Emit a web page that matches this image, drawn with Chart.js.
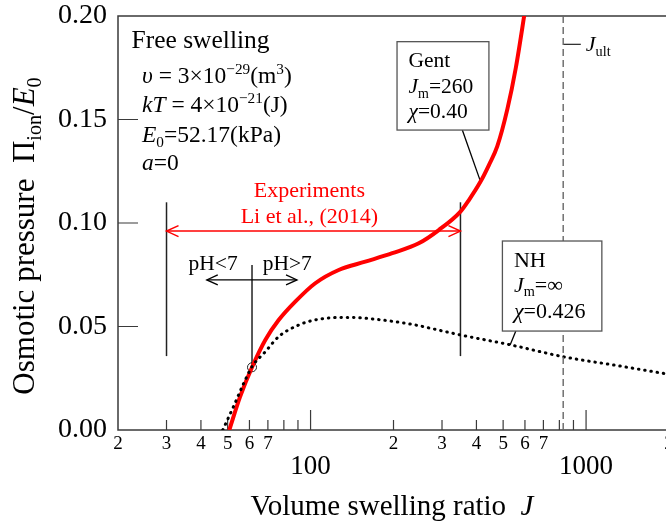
<!DOCTYPE html>
<html><head><meta charset="utf-8">
<script src="https://cdn.jsdelivr.net/npm/chart.js@4"></script>
<style>
html,body{margin:0;padding:0;background:#fff;overflow:hidden;width:666px;height:521px}
#wrap{position:absolute;left:0;top:0;width:680px;height:521px}
</style>
</head><body>
<div id="wrap"><canvas id="c" width="680" height="521"></canvas></div>
<script>
const FONT = '"Liberation Serif", "Times New Roman", serif';

// ---- data ----
const gentJ = [50.7, 55.5, 61.3, 68.5, 76.6, 88, 104, 126.5, 158, 198, 247, 292, 350, 375.7, 414, 444, 476, 518, 556, 596, 620];
const gentV = [0, 0.0161, 0.0303, 0.0435, 0.0531, 0.062, 0.0709, 0.0773, 0.0813, 0.0854, 0.0902, 0.0966, 0.1055, 0.1111, 0.120, 0.128, 0.137, 0.155, 0.175, 0.200, 0.215];
const nhJ = [48, 52.5, 57.2, 61.3, 68.5, 76.6, 90.5, 107, 137.6, 172, 234, 309, 350, 533, 826, 1300, 2000];
const nhV = [0, 0.0113, 0.0226, 0.0306, 0.0378, 0.0451, 0.0507, 0.0535, 0.0544, 0.0535, 0.051, 0.0475, 0.0459, 0.0411, 0.0354, 0.0311, 0.0269];
const jUlt = 826;
const jUltLabelJ = [826, 957];
const jUltLabelV = 0.1863;
const expBarJ = [30, 350];
const expBarV = [0.0357, 0.110];
const expArrowV = 0.0961;
const phJ = 61.3;
const phBarV = [0.0303, 0.0797];
const phArrowJ = [42.0, 89.3];
const phArrowV = 0.0725;
const markerJ = [61.3];
const markerV = [0.0303];
const gentLeaderJ = [355.5, 414];
const gentLeaderV = [0.1449, 0.120];
const nhLeaderJ = [556, 530];
const nhLeaderV = [0.0478, 0.0411];

// ---- tick labels ----
const xMinorTickValues = [20,30,40,50,60,70,80,90,200,300,400,500,600,700,800,900,2000];
const xMinorTickLabels = ['2','3','4','5','6','7','','','2','3','4','5','6','7','','','2'];
const xMajorTickValues = [100,1000];
const xMajorTickLabels = ['100','1000'];
const yTickValues = [0,0.05,0.10,0.15,0.20];
const yTickLabels = ['0.00','0.05','0.10','0.15','0.20'];

const pts = (xs, ys) => xs.map((x,i)=>({x, y: Array.isArray(ys) ? ys[i] : ys}));

function fontStr(sz, it){ return (it?'italic ':'') + sz + 'px ' + FONT; }
function segW(ctx, s, size){
  const sz = (s.sub||s.sup) ? size*0.65 : size;
  ctx.font = fontStr(sz, s.i);
  return ctx.measureText(s.t).width;
}
function drawRich(ctx, segs, x, y, size, align, color){
  let total = 0;
  segs.forEach(s=> total += segW(ctx, s, size));
  let cx = align==='center' ? x - total/2 : x;
  ctx.fillStyle = color || '#000';
  ctx.textBaseline = 'alphabetic';
  ctx.textAlign = 'left';
  segs.forEach(s=>{
    const w = segW(ctx, s, size);
    const dy = s.sub ? size*0.22 : (s.sup ? -size*0.38 : 0);
    ctx.fillText(s.t, cx, y+dy);
    cx += w;
  });
}

function arrowHead(ctx, x, y, dir, len, half){
  ctx.beginPath();
  ctx.moveTo(x - dir*len, y - half);
  ctx.lineTo(x, y);
  ctx.lineTo(x - dir*len, y + half);
  ctx.stroke();
}

const decor = {
  id:'decor',
  beforeDatasetsDraw(chart){
    const {ctx, chartArea:a, scales} = chart;
    const x = scales.x, y = scales.y;
    ctx.save();
    ctx.strokeStyle = '#3a3a3a';
    ctx.lineWidth = 1.5;
    ctx.strokeRect(a.left, a.top, a.right - a.left, a.bottom - a.top);
    ctx.lineWidth = 1.2;
    ctx.beginPath();
    xMinorTickValues.forEach(v=>{
      if (v===20) return;
      const px = x.getPixelForValue(v);
      ctx.moveTo(px, a.bottom); ctx.lineTo(px, a.bottom-10);
    });
    xMajorTickValues.forEach(v=>{
      const px = x.getPixelForValue(v);
      ctx.moveTo(px, a.bottom); ctx.lineTo(px, a.bottom-20);
    });
    yTickValues.forEach(v=>{
      if (v===0 || v===0.2) return;
      const py = y.getPixelForValue(v);
      ctx.moveTo(a.left, py); ctx.lineTo(a.left+20, py);
    });
    ctx.stroke();
    ctx.restore();
  },
  afterDatasetsDraw(chart){
    const {ctx, chartArea:a, scales} = chart;
    const X = v => scales.x.getPixelForValue(v);
    const Y = v => scales.y.getPixelForValue(v);
    ctx.save();
    // arrowheads
    ctx.lineWidth = 1.5;
    ctx.strokeStyle = '#ff0000';
    arrowHead(ctx, X(expBarJ[0]), Y(expArrowV), -1, 12, 5.5);
    arrowHead(ctx, X(expBarJ[1]), Y(expArrowV), 1, 12, 5.5);
    ctx.strokeStyle = '#000';
    ctx.lineWidth = 1.3;
    arrowHead(ctx, X(phArrowJ[0]), Y(phArrowV), -1, 11, 5);
    arrowHead(ctx, X(phArrowJ[1]), Y(phArrowV), 1, 11, 5);

    // boxes
    const box = (j0,j1,v0,v1)=>{
      const x0=X(j0), x1=X(j1), y0=Y(v0), y1=Y(v1);
      ctx.fillStyle='#fff';
      ctx.fillRect(x0,y0,x1-x0,y1-y0);
      ctx.strokeStyle='#555'; ctx.lineWidth=1.3;
      ctx.strokeRect(x0,y0,x1-x0,y1-y0);
      return {x:x0, y:y0};
    };
    const g = box(206, 444, 0.1876, 0.1449);
    drawRich(ctx, [{t:'Gent'}], g.x+11.5, g.y+25, 21.5, 'left');
    drawRich(ctx, [{t:'J',i:true},{t:'m',sub:true},{t:'=260'}], g.x+11.5, g.y+51.5, 21.5, 'left');
    drawRich(ctx, [{t:'χ',i:true},{t:'=0.40'}], g.x+11.5, g.y+76.5, 21.5, 'left');
    const n = box(497, 1141, 0.0913, 0.0478);
    drawRich(ctx, [{t:'NH'}], n.x+11.5, n.y+26, 22, 'left');
    drawRich(ctx, [{t:'J',i:true},{t:'m',sub:true},{t:'=∞'}], n.x+11.5, n.y+50.5, 22, 'left');
    drawRich(ctx, [{t:'χ',i:true},{t:'=0.426'}], n.x+11.5, n.y+77, 22, 'left');

    // free swelling block
    const L = a.left, T = a.top;
    drawRich(ctx, [{t:'Free swelling'}], L+13.5, T+32, 25.5, 'left');
    drawRich(ctx, [{t:'υ',i:true},{t:' = 3×10'},{t:'−29',sup:true},{t:'(m'},{t:'3',sup:true},{t:')'}], L+24, T+67, 23.5, 'left');
    drawRich(ctx, [{t:'kT',i:true},{t:' = 4×10'},{t:'−21',sup:true},{t:'(J)'}], L+24, T+96, 23.5, 'left');
    drawRich(ctx, [{t:'E',i:true},{t:'0',sub:true},{t:'=52.17(kPa)'}], L+24, T+126, 23.5, 'left');
    drawRich(ctx, [{t:'a',i:true},{t:'=0'}], L+24, T+154, 23.5, 'left');

    // experiments
    drawRich(ctx, [{t:'Experiments'}], X(99), Y(0.1127), 22, 'center', '#ff0000');
    drawRich(ctx, [{t:'Li et al., (2014)'}], X(99), Y(0.100), 22, 'center', '#ff0000');
    // pH
    drawRich(ctx, [{t:'pH<7'}], X(44.3), Y(0.0774), 21.5, 'center');
    drawRich(ctx, [{t:'pH>7'}], X(82.3), Y(0.0774), 21.5, 'center');
    // J_ult
    drawRich(ctx, [{t:'J',i:true},{t:'ult',sub:true}], X(jUltLabelJ[1])+5, Y(jUltLabelV)+7, 22, 'left');
    ctx.restore();
  },
  afterDraw(chart){
    const {ctx} = chart;
    ctx.save();
    // x title
    drawRich(ctx, [{t:'Volume swelling ratio  '},{t:'J',i:true}], 392, 515, 29, 'center');
    // y title
    ctx.translate(34, 236);
    ctx.rotate(-Math.PI/2);
    drawRich(ctx, [{t:'Osmotic pressure  Π'},{t:'ion',sub:true},{t:'/'},{t:'E',i:true},{t:'0',sub:true}], 0, 0, 31, 'center');
    ctx.restore();
  }
};

const lineDs = (data, color, width, extra) => Object.assign({
  data, showLine:true, borderColor:color, backgroundColor:color, borderWidth:width,
  pointRadius:0, fill:false, tension:0
}, extra||{});

new Chart(document.getElementById('c'), {
  type:'scatter',
  data:{ datasets:[
    lineDs(pts([jUlt,jUlt],[0,0.2]), '#666', 1.4, {borderDash:[7,4]}),
    lineDs(pts(nhJ, nhV), '#000', 3, {borderDash:[0.5,5.8], borderCapStyle:'round', cubicInterpolationMode:'monotone'}),
    lineDs(pts(gentJ, gentV), '#ff0000', 4, {cubicInterpolationMode:'monotone'}),
    lineDs(pts([expBarJ[0],expBarJ[0]], expBarV), '#222', 1.5),
    lineDs(pts([expBarJ[1],expBarJ[1]], expBarV), '#222', 1.5),
    lineDs(pts(expBarJ, expArrowV), '#ff0000', 1.5),
    lineDs(pts([phJ,phJ], phBarV), '#000', 1.3),
    lineDs(pts(phArrowJ, phArrowV), '#000', 1.3),
    lineDs(pts(gentLeaderJ, gentLeaderV), '#000', 1.3),
    lineDs(pts(nhLeaderJ, nhLeaderV), '#000', 1.3),
    lineDs(pts(jUltLabelJ, jUltLabelV), '#333', 1.3),
    {data: pts(markerJ, markerV), showLine:false, pointRadius:4.5, pointStyle:'circle',
     borderColor:'#222', backgroundColor:'rgba(0,0,0,0)', borderWidth:1}
  ]},
  options:{
    responsive:false, animation:false, devicePixelRatio:1,
    layout:{padding:{top:16, right:11, left:0, bottom:0}},
    plugins:{legend:{display:false}, tooltip:{enabled:false}},
    scales:{
      x:{ type:'logarithmic', position:'bottom', min:20, max:2000, weight:0,
        afterBuildTicks: s => { s.ticks = xMinorTickValues.map(v=>({value:v})); },
        afterFit: s => { s.height = 20; s.paddingLeft = 0; s.paddingRight = 0; },
        grid:{display:false, drawTicks:false}, border:{display:false},
        ticks:{ callback:(v,i)=>xMinorTickLabels[i], autoSkip:false, maxRotation:0, minRotation:0,
          font:{family:FONT, size:19}, color:'#000', padding:3 } },
      x2:{ type:'logarithmic', position:'bottom', min:20, max:2000, weight:1,
        afterBuildTicks: s => { s.ticks = xMajorTickValues.map(v=>({value:v})); },
        afterFit: s => { s.height = 71; s.paddingLeft = 0; s.paddingRight = 0; },
        grid:{display:false, drawTicks:false}, border:{display:false},
        ticks:{ callback:(v,i)=>xMajorTickLabels[i], autoSkip:false, maxRotation:0, minRotation:0,
          font:{family:FONT, size:27}, color:'#000', padding:1 } },
      y:{ type:'linear', position:'left', min:0, max:0.2,
        afterBuildTicks: s => { s.ticks = yTickValues.map(v=>({value:v})); },
        afterFit: s => { s.width = 118; s.paddingTop = 0; s.paddingBottom = 0; },
        grid:{display:false, drawTicks:false}, border:{display:false},
        ticks:{ callback:(v,i)=>yTickLabels[i], autoSkip:false, font:{family:FONT, size:28}, color:'#000', padding:11 } }
    }
  },
  plugins:[decor]
});
</script>
</body></html>
